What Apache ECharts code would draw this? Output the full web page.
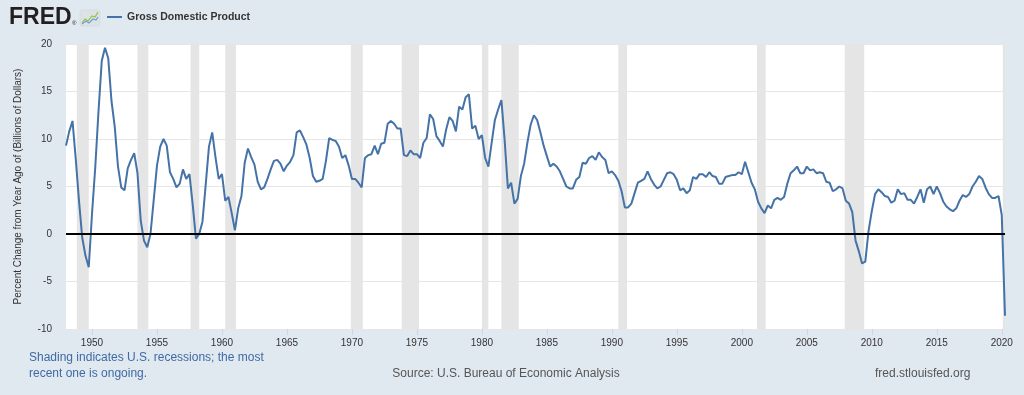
<!DOCTYPE html>
<html>
<head>
<meta charset="utf-8">
<script src="https://cdn.jsdelivr.net/npm/echarts@6/dist/echarts.min.js"></script>
<style>
  html, body { margin: 0; padding: 0; background: #e1e9f0; }
  #chart { width: 1024px; height: 395px; }
</style>
</head>
<body>
<div id="chart"></div>
<script>
// Gross Domestic Product, percent change from year ago, quarterly, starting 1948 Q1
const firstYear = 1948;
const gdpPctChange = [
  9.3, 10.8, 11.9, 7.9,     // 1948
  3.5, -0.4, -2.3, -3.5,    // 1949
  2.1, 7.0, 12.9, 18.2,     // 1950
  19.6, 18.5, 14.0, 11.3,   // 1951
  7.1, 4.9, 4.6, 6.9,       // 1952
  7.8, 8.5, 6.4, 1.4,       // 1953
  -0.7, -1.4, 0.0, 3.6,     // 1954
  7.2, 9.2, 10.0, 9.3,      // 1955
  6.5, 5.8, 4.9, 5.3,       // 1956
  6.8, 5.8, 6.3, 3.1,       // 1957
  -0.5, 0.0, 1.3, 5.2,      // 1958
  9.2, 10.7, 8.1, 5.8,      // 1959
  6.3, 3.5, 3.9, 2.2,       // 1960
  0.4, 2.7, 4.0, 7.5,       // 1961
  9.0, 8.1, 7.3, 5.5,       // 1962
  4.7, 4.9, 5.8, 6.8,       // 1963
  7.7, 7.8, 7.4, 6.6,       // 1964
  7.2, 7.6, 8.3, 10.7,      // 1965
  10.9, 10.2, 9.4, 8.0,     // 1966
  6.1, 5.5, 5.6, 5.8,       // 1967
  7.7, 10.1, 9.9, 9.8,      // 1968
  9.2, 8.0, 8.3, 7.2,       // 1969
  5.8, 5.8, 5.4, 4.9,       // 1970
  8.0, 8.3, 8.4, 9.3,       // 1971
  8.4, 9.5, 9.6, 11.6,      // 1972
  11.9, 11.6, 11.1, 11.1,   // 1973
  8.3, 8.2, 8.8, 8.4,       // 1974
  8.4, 8.0, 9.6, 10.1,      // 1975
  12.6, 12.1, 10.3, 9.8,    // 1976
  9.2, 11.0, 12.3, 11.9,    // 1977
  10.8, 13.4, 13.1, 14.4,   // 1978
  14.7, 11.1, 11.4, 10.0,   // 1979
  10.4, 8.0, 7.1, 9.6,      // 1980
  12.0, 13.1, 14.1, 9.9,    // 1981
  4.8, 5.4, 3.2, 3.7,       // 1982
  6.1, 7.4, 9.6, 11.5,      // 1983
  12.5, 12.0, 10.7, 9.3,    // 1984
  8.2, 7.1, 7.4, 7.1,       // 1985
  6.6, 5.8, 5.0, 4.8,       // 1986
  4.8, 5.7, 6.0, 7.5,       // 1987
  7.4, 8.0, 8.2, 7.8,       // 1988
  8.6, 8.1, 7.8, 6.4,       // 1989
  6.6, 6.2, 5.6, 4.5,       // 1990
  2.8, 2.8, 3.2, 4.3,       // 1991
  5.4, 5.6, 5.8, 6.6,       // 1992
  5.8, 5.2, 4.8, 5.0,       // 1993
  5.7, 6.4, 6.5, 6.3,       // 1994
  5.7, 4.6, 4.8, 4.3,       // 1995
  4.6, 6.0, 5.8, 6.3,       // 1996
  6.3, 6.0, 6.5, 6.1,       // 1997
  6.0, 5.3, 5.3, 6.0,       // 1998
  6.1, 6.2, 6.2, 6.5,       // 1999
  6.3, 7.6, 6.5, 5.4,       // 2000
  4.7, 3.4, 2.7, 2.2,       // 2001
  3.0, 2.7, 3.6, 3.8,       // 2002
  3.6, 3.9, 5.3, 6.4,       // 2003
  6.7, 7.1, 6.4, 6.4,       // 2004
  7.1, 6.7, 6.8, 6.4,       // 2005
  6.5, 6.4, 5.5, 5.4,       // 2006
  4.5, 4.7, 5.0, 4.8,       // 2007
  3.5, 3.2, 2.3, -0.7,      // 2008
  -1.8, -3.1, -2.9, 0.3,    // 2009
  2.4, 4.2, 4.7, 4.4,       // 2010
  4.0, 3.9, 3.3, 3.5,       // 2011
  4.7, 4.2, 4.3, 3.6,       // 2012
  3.6, 3.2, 3.9, 4.7,       // 2013
  3.3, 4.7, 5.0, 4.2,       // 2014
  5.0, 4.3, 3.4, 2.9,       // 2015
  2.6, 2.4, 2.7, 3.5,       // 2016
  4.1, 3.9, 4.2, 5.0,       // 2017
  5.5, 6.1, 5.8, 4.9,       // 2018
  4.2, 3.8, 3.8, 4.0,       // 2019
  2.0, -8.6                 // 2020
];
const xTickYears = [1950, 1955, 1960, 1965, 1970, 1975, 1980, 1985, 1990, 1995, 2000, 2005, 2010, 2015, 2020];
const yMin = -10, yMax = 20, yStep = 5;
// NBER recessions (peak month, trough month); last one ongoing
const recessions = [
  ['1948-11', '1949-10'], ['1953-07', '1954-05'], ['1957-08', '1958-04'],
  ['1960-04', '1961-02'], ['1969-12', '1970-11'], ['1973-11', '1975-03'],
  ['1980-01', '1980-07'], ['1981-07', '1982-11'], ['1990-07', '1991-03'],
  ['2001-03', '2001-11'], ['2007-12', '2009-06'], ['2020-02', '2020-04']
];
const seriesName = 'Gross Domestic Product';
const yAxisTitle = 'Percent Change from Year Ago of (Billions of Dollars)';

const toYear = s => { const [y, m] = s.split('-').map(Number); return y + (m - 1) / 12; };
const lineData = gdpPctChange.map((v, i) => [firstYear + i / 4, v]);
const lastX = firstYear + (gdpPctChange.length - 1) / 4;

const FONT = '"Liberation Sans", Arial, Helvetica, sans-serif';
const chart = echarts.init(document.getElementById('chart'), null, { renderer: 'canvas' });
chart.setOption({
  backgroundColor: '#e1e9f0',
  animation: false,
  textStyle: { fontFamily: FONT },
  grid: { left: 66, right: 19, top: 44, bottom: 66, show: true, backgroundColor: '#ffffff', borderWidth: 0 },
  xAxis: {
    type: 'value', min: firstYear, max: lastX,
    axisLine: { show: false, onZero: false },
    splitLine: { show: false },
    axisTick: { show: true, length: 6, lineStyle: { color: '#ccd6eb' }, customValues: xTickYears },
    axisLabel: { color: '#333', fontSize: 10, margin: 9, fontFamily: FONT, customValues: xTickYears,
                 formatter: v => String(Math.round(v)) }
  },
  yAxis: {
    type: 'value', min: yMin, max: yMax, interval: yStep,
    name: yAxisTitle, nameLocation: 'middle', nameRotate: 90, nameGap: 43,
    nameTextStyle: { color: '#333', fontSize: 10, fontFamily: FONT },
    axisLine: { show: false }, axisTick: { show: false },
    axisLabel: { color: '#333', fontSize: 10, margin: 14, fontFamily: FONT },
    splitLine: { lineStyle: { color: '#e6e6e6', width: 1 } }
  },
  series: [{
    type: 'line', name: seriesName, data: lineData, showSymbol: false, symbol: 'none',
    lineStyle: { color: '#4572a7', width: 2 }, itemStyle: { color: '#4572a7' }, z: 3,
    markArea: {
      silent: true,
      itemStyle: { color: '#e5e5e5' },
      data: recessions.map(([a, b]) => [{ xAxis: toYear(a) }, { xAxis: Math.min(toYear(b), lastX) }])
    },
    markLine: {
      silent: true, symbol: 'none', label: { show: false },
      lineStyle: { color: '#000', width: 2, type: 'solid' },
      data: [{ yAxis: 0 }]
    }
  }],
  graphic: [
    { type: 'text', left: 9, top: 6, style: { text: 'FRED', font: 'bold 23px ' + FONT, fill: '#231f20' } },
    { type: 'text', left: 72, top: 20, style: { text: '®', font: '6px ' + FONT, fill: '#231f20' } },
    { type: 'rect', shape: { x: 80, y: 10, width: 20, height: 16, r: 2 }, style: { fill: '#dde2e6', stroke: '#cdd3d8', lineWidth: 0.5 } },
    { type: 'polyline', shape: { points: [[82, 23], [85, 19], [88, 21], [92, 16], [95, 17], [98, 12]] }, style: { stroke: '#8dc63f', lineWidth: 1.2, fill: null } },
    { type: 'polyline', shape: { points: [[82, 24], [86, 21], [89, 23], [93, 19], [96, 20], [98, 17]] }, style: { stroke: '#6d9ed4', lineWidth: 1.2, fill: null } },
    { type: 'line', shape: { x1: 107, y1: 17, x2: 122, y2: 17 }, style: { stroke: '#4572a7', lineWidth: 2 } },
    { type: 'text', x: 127, y: 17, style: { text: seriesName, font: 'bold 10.5px ' + FONT, fill: '#333', verticalAlign: 'middle' } },
    { type: 'text', x: 29, y: 358, style: { text: 'Shading indicates U.S. recessions; the most', font: '12px ' + FONT, fill: '#3f6aa5', verticalAlign: 'middle' } },
    { type: 'text', x: 29, y: 374, style: { text: 'recent one is ongoing.', font: '12px ' + FONT, fill: '#3f6aa5', verticalAlign: 'middle' } },
    { type: 'text', x: 506, y: 374, style: { text: 'Source: U.S. Bureau of Economic Analysis', font: '12px ' + FONT, fill: '#555', align: 'center', verticalAlign: 'middle' } },
    { type: 'text', x: 875, y: 374, style: { text: 'fred.stlouisfed.org', font: '12px ' + FONT, fill: '#555', verticalAlign: 'middle' } }
  ]
});
</script>
</body>
</html>
